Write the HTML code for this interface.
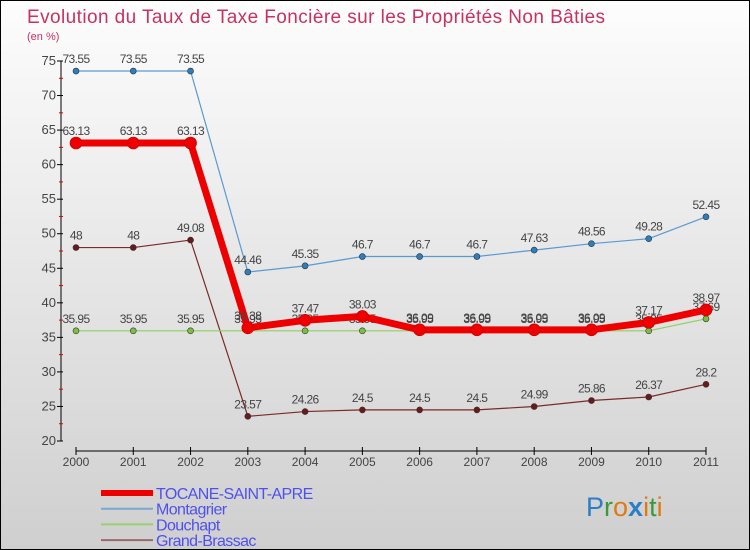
<!DOCTYPE html>
<html><head><meta charset="utf-8"><style>
body{margin:0}
#c{width:750px;height:550px;position:relative;overflow:hidden;box-sizing:border-box;border:1px solid #000;background:linear-gradient(#fdfdfd,#cfcfcf);font-family:"Liberation Sans","DejaVu Sans",sans-serif}
svg{position:absolute;left:0;top:0}
</style></head><body>
<div id="c">
<svg id="s" width="750" height="550">
<text x="26" y="22" font-size="19" fill="#c8325f" textLength="578">Evolution du Taux de Taxe Foncière sur les Propriétés Non Bâties</text>
<text x="26" y="39" font-size="11" fill="#c8325f">(en %)</text>
<text x="585" y="515" font-size="27" font-family="Liberation Sans, sans-serif"><tspan fill="#2a7fc8">P</tspan><tspan fill="#3a9a3a">r</tspan><tspan fill="#e07a10">o</tspan><tspan fill="#2a7fc8" font-weight="bold">x</tspan><tspan fill="#e07a10">i</tspan><tspan fill="#3a9a3a">t</tspan><tspan fill="#e07a10">i</tspan></text>
</svg>
</div>
<script>
const years=["2000","2001","2002","2003","2004","2005","2006","2007","2008","2009","2010","2011"];
const yTicks=[20,25,30,35,40,45,50,55,60,65,70,75];
const tocane=[63.13,63.13,63.13,36.38,37.47,38.03,36.09,36.09,36.09,36.09,37.17,38.97];
const montagrier=[73.55,73.55,73.55,44.46,45.35,46.7,46.7,46.7,47.63,48.56,49.28,52.45];
const douchapt=[35.95,35.95,35.95,35.95,35.95,35.95,35.95,35.95,35.95,35.95,35.95,37.69];
const grandBrassac=[48,48,49.08,23.57,24.26,24.5,24.5,24.5,24.99,25.86,26.37,28.2];
const NS="http://www.w3.org/2000/svg",s=document.getElementById('s');
const X=i=>75+i*(630/11), Y=v=>440-(v-20)*(380/55);
function el(t,a,name,p){const e=document.createElementNS(NS,t);for(const k in a)e.setAttribute(k,a[k]);


(p||s).appendChild(e);return e;}
el('line',{x1:60,y1:60,x2:60,y2:440,stroke:'#000'},'y-axis');
yTicks.forEach(v=>{el('line',{x1:56,x2:62,y1:Y(v),y2:Y(v),stroke:'#000'},'y-tick');
const t=el('text',{x:55,y:Y(v)+4,'font-size':13,fill:'#444','text-anchor':'end'},'y-tick-label');t.textContent=v;
if(v<75)el('line',{x1:58,x2:62,y1:Y(v+2.5),y2:Y(v+2.5),stroke:'#d00'},'y-minor-tick');});
el('line',{x1:75,y1:450,x2:705,y2:450,stroke:'#000'},'x-axis');
years.forEach((y,i)=>{el('line',{x1:X(i),x2:X(i),y1:446,y2:454,stroke:'#000'},'x-tick');
const t=el('text',{x:X(i),y:465,'font-size':12,fill:'#444','text-anchor':'middle'},'x-tick-label');t.textContent=y;});
function series(d,col,w,r,dot,name){
const g=el('g',{},name+'-series');
el('polyline',{points:d.map((v,i)=>X(i)+','+Y(v)).join(' '),fill:'none',stroke:col,'stroke-width':w,'stroke-linejoin':'round'},name+'-line',g);
d.forEach((v,i)=>{el('circle',{cx:X(i),cy:Y(v),r:r,fill:dot,stroke:w>3?'#b00':'#333','stroke-width':0.6},name+'-point',g);
const t=el('text',{x:X(i),y:Y(v)-8,'font-size':12,fill:'#444','text-anchor':'middle','letter-spacing':'-0.6'},name+'-value-label',g);t.textContent=v;});}
series(grandBrassac,'#7a2a2a',1.2,3,'#6a1a1a','grand-brassac');
series(montagrier,'#5a9ad0',1.2,3,'#2a7fc0','montagrier');
series(douchapt,'#8ed060',1.2,3,'#7ac040','douchapt');
series(tocane,'#ee0000',7,6,'#ee0000','tocane');
const leg=[["TOCANE-SAINT-APRE","#ee0000",6],["Montagrier","#7aa8d0",2],["Douchapt","#9ad070",2],["Grand-Brassac","#9a6a6a",2]];
leg.forEach((l,i)=>{const y=492+i*15.7;
const g=el('g',{},'legend-entry');
el('line',{x1:100,x2:152,y1:y,y2:y,stroke:l[1],'stroke-width':l[2]},'legend-swatch',g);
const t=el('text',{x:155,y:y+6,'font-size':16,fill:'#5050f0','letter-spacing':'-0.6'},'legend-label',g);t.textContent=l[0];});
</script>
</body></html>
